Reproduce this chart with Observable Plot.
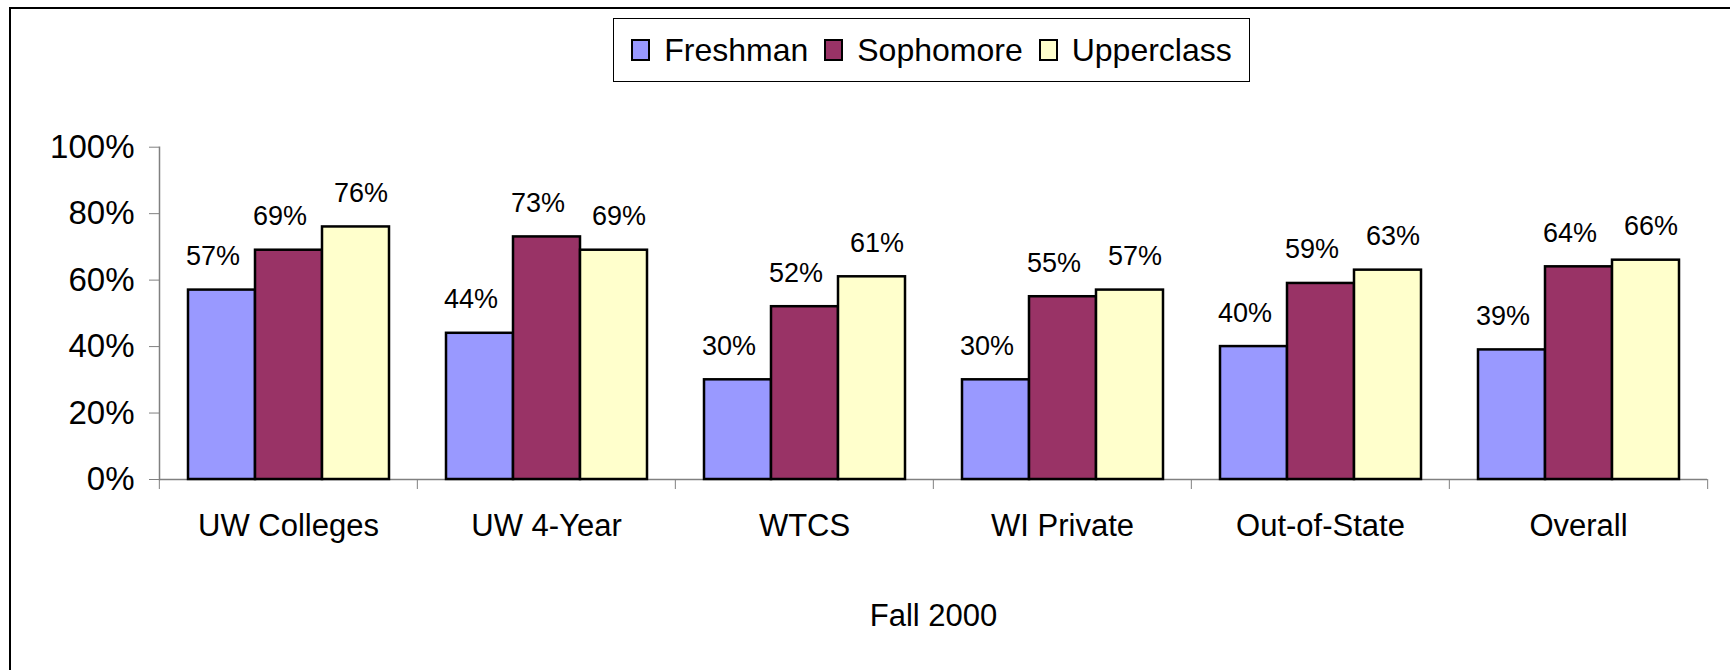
<!DOCTYPE html>
<html><head><meta charset="utf-8">
<script src="https://cdn.jsdelivr.net/npm/d3@7"></script>
<script src="https://cdn.jsdelivr.net/npm/@observablehq/plot@0.6"></script>
<style>
body{margin:0;background:#fff;font-family:"Liberation Sans",Arial,sans-serif;}
#wrap{position:relative;width:1730px;height:670px;overflow:hidden;background:#fff;}
#frame{position:absolute;left:9px;top:7px;width:1730px;height:670px;border-left:2px solid #000;border-top:2px solid #000;pointer-events:none;}
#legendRow{position:relative;height:100px;}
#legend{position:absolute;left:613px;top:18px;width:635px;height:62px;border:1px solid #000;display:flex;align-items:center;justify-content:center;font-size:32px;color:#000;}
.item{display:flex;align-items:center;margin:0 8px;}
.sw{width:15px;height:18px;border:2px solid #000;margin-right:14px;}
#chart{position:relative;height:570px;}
#chart svg{display:block;}
</style></head><body>
<div id="wrap">
  <div id="legendRow"><div id="legend"></div></div>
  <div id="chart"></div>
  <div id="frame"></div>
</div>
<script>
const categories = ["UW Colleges","UW 4-Year","WTCS","WI Private","Out-of-State","Overall"];
const seriesNames = ["Freshman","Sophomore","Upperclass"];
const freshman   = [0.57,0.44,0.30,0.30,0.40,0.39];
const sophomore  = [0.69,0.73,0.52,0.55,0.59,0.64];
const upperclass = [0.76,0.69,0.61,0.57,0.63,0.66];
const seriesColors = ["#9999FF","#993366","#FFFFCC"];
const yTicks = [0,0.2,0.4,0.6,0.8,1];
const xTitle = "Fall 2000";

const seriesValues = [freshman, sophomore, upperclass];
const rows = [];
categories.forEach((c,i)=>seriesNames.forEach((s,j)=>rows.push({category:c, series:s, value:seriesValues[j][i]})));

// legend
const leg = document.getElementById("legend");
seriesNames.forEach((s,j)=>{
  const it=document.createElement("div"); it.className="item";
  const sw=document.createElement("div"); sw.className="sw"; sw.style.background=seriesColors[j];
  const tx=document.createElement("span"); tx.textContent=s;
  it.appendChild(sw); it.appendChild(tx); leg.appendChild(it);
});

const W=1730,H=570,mL=158,mR=22,mT=46.7,mB=191;
const step=(W-mL-mR)/categories.length;
const labelDx=[-9,-9,5];
const pct=d3.format(".0%");

const chart = Plot.plot({
  width:W,height:H,marginLeft:mL,marginRight:mR,marginTop:mT,marginBottom:mB,
  style:{fontFamily:"'Liberation Sans', Arial, sans-serif",fontSize:"31px",color:"#000",background:"#fff",overflow:"visible"},
  fx:{domain:categories,padding:0},
  x:{domain:seriesNames,paddingInner:0,paddingOuter:0.4,axis:null},
  y:{domain:[0,1]},
  color:{domain:seriesNames,range:seriesColors},
  marks:[
    Plot.ruleY([0],{stroke:"#808080",strokeWidth:1.5}),
    Plot.barY(rows,{fx:"category",x:"series",y:"value",fill:"series",stroke:"#000",strokeWidth:2.5}),
    ...seriesNames.map((s,j)=>Plot.text(rows.filter(r=>r.series===s),{fx:"category",x:"series",y:"value",text:d=>pct(d.value),lineAnchor:"bottom",dy:-25,dx:labelDx[j],fontSize:27,fill:"#000"})),
    Plot.axisY({ticks:yTicks,tickFormat:pct,tickSize:10,tickPadding:15,fontSize:33,stroke:"#808080",fill:"#000",label:null}),
    Plot.frame({anchor:"left",stroke:"#808080",strokeWidth:1.5,facetAnchor:"left"}),
    Plot.axisFx({anchor:"bottom",tickSize:0,tickPadding:34,fontSize:31,fill:"#000",label:xTitle,labelAnchor:"center",labelOffset:146}),
    Plot.axisFx({anchor:"bottom",text:null,tickSize:10,dx:-step/2,stroke:"#808080",label:null}),
    Plot.axisFx({anchor:"bottom",ticks:[categories[categories.length-1]],text:null,tickSize:10,dx:step/2,stroke:"#808080",label:null})
  ]
});
document.getElementById("chart").appendChild(chart);
</script>
</body></html>
